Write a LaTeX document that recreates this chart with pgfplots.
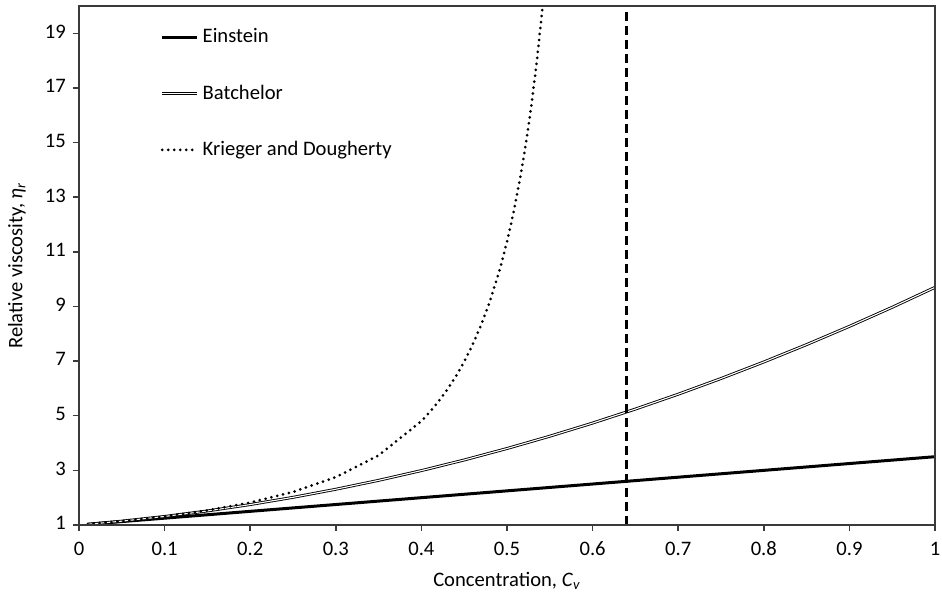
\documentclass[border=0pt]{standalone}
\usepackage{pgfplots}
\pgfplotsset{compat=1.18}
\usepackage{fontspec}
\setmainfont{Carlito}
\definecolor{axgray}{HTML}{3A3A3A}
\begin{document}
\fontsize{10.3}{12}\selectfont
\begin{tikzpicture}
\begin{axis}[
  scale only axis,
  width=428pt, height=259.5pt,
  xmin=0, xmax=1, ymin=1, ymax=20,
  xtick={0,0.1,0.2,0.3,0.4,0.5,0.6,0.7,0.8,0.9,1},
  ytick={1,3,5,7,9,11,13,15,17,19},
  xticklabels={0,0.1,0.2,0.3,0.4,0.5,0.6,0.7,0.8,0.9,1},
  yticklabels={1,3,5,7,9,11,13,15,17,19},
  typeset ticklabels with strut,
  tick align=outside, xtick pos=left, ytick pos=left,
  major tick length=3pt,
  axis line style={axgray, line width=0.75pt},
  every tick/.style={axgray, line width=0.75pt},
  /pgf/number format/assume math mode=true,
  tick label style={font=\fontsize{10.3}{12}\selectfont},
  label style={font=\fontsize{10.3}{12}\selectfont},
  xlabel={Concentration, \textit{C}\textsubscript{\textit{v}}},
  ylabel={Relative viscosity, \textit{η}\textsubscript{\textit{r}}},
  xlabel style={yshift=2pt},
  ylabel style={yshift=2.5pt},
  legend style={draw=none, fill=none, at={(axis description cs:0.095,0.965)}, anchor=north west,
    row sep=15.5pt, font=\fontsize{10.3}{12}\selectfont, inner sep=0pt},
  legend cell align=left,
  legend image code/.code={\draw[#1] (0pt,0pt) -- (17.5pt,0pt);},
]
\addplot[black, line width=1.5pt] coordinates {(0.01,1.025) (0.5,2.25) (1,3.5)};
\addlegendentry{Einstein}
\addplot[black, line width=0.45pt, double=white, double distance=0.55pt,
  legend image code/.code={\draw[black, line width=0.45pt, double=white, double distance=0.55pt] (0pt,0pt) -- (17.5pt,0pt);}] coordinates {
(0.01,1.0256) (0.05,1.1405) (0.1,1.312) (0.15,1.5145) (0.2,1.748) (0.25,2.0125)
(0.3,2.308) (0.35,2.6345) (0.4,2.992) (0.45,3.3805) (0.5,3.8) (0.55,4.2505)
(0.6,4.732) (0.65,5.2445) (0.7,5.788) (0.75,6.3625) (0.8,6.968) (0.85,7.6045)
(0.9,8.272) (0.95,8.9705) (1,9.7)};
\addlegendentry{Batchelor}
\addplot[black, line width=1.5pt, line cap=round, dash pattern=on 0pt off 3pt] coordinates {
(0.01,1.0255) (0.05,1.139) (0.1,1.3124) (0.15,1.5331) (0.2,1.8213) (0.25,2.209)
(0.3,2.7512) (0.35,3.5487) (0.4,4.8035) (0.41,5.142) (0.42,5.521) (0.43,5.948)
(0.44,6.43) (0.45,6.98) (0.46,7.611) (0.47,8.339) (0.48,9.189) (0.49,10.189)
(0.495,10.757) (0.5,11.378) (0.505,12.06) (0.51,12.812) (0.515,13.64) (0.52,14.561)
(0.525,15.587) (0.53,16.736) (0.535,18.03) (0.54,19.493) (0.545,21.161)};
\addlegendentry{Krieger and Dougherty}
\addplot[black, line width=1.5pt, dash pattern=on 4.5pt off 2.5pt, forget plot] coordinates {(0.64,1) (0.64,20)};
\end{axis}
\draw[axgray, line width=0.75pt] (current axis.south west) rectangle (current axis.north east);
\pgfresetboundingbox
\path (current axis.south west) ++(-39.5pt,-36.5pt) coordinate (bbA);
\path (current axis.north east) ++(3.5pt,3pt) coordinate (bbB);
\useasboundingbox (bbA) rectangle (bbB);
\end{tikzpicture}
\end{document}
